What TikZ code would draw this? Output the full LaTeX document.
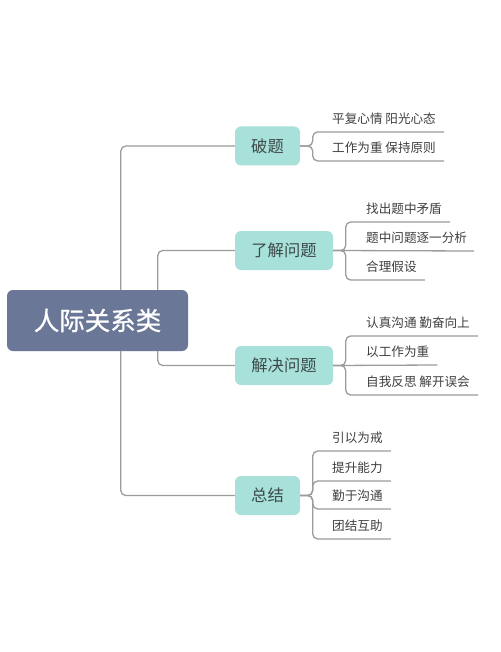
\documentclass[tikz,border=0pt]{standalone}
\usepackage{fontspec}
\setmainfont{Noto Sans CJK SC}
\newfontfamily\rootfont[FakeBold=0.8]{Noto Sans CJK SC}
\definecolor{rootc}{HTML}{6B7796}
\definecolor{boxc}{HTML}{A8E1D9}
\definecolor{linec}{HTML}{9C9C9C}
\definecolor{leaftext}{HTML}{404040}
\definecolor{boxtext}{HTML}{3D4A4A}
\begin{document}
\begin{tikzpicture}[x=1pt,y=-1pt,
  rootbox/.style={fill=rootc,rounded corners=6pt,minimum width=181pt,minimum height=61pt,inner sep=0pt,text=white,font=\rootfont\fontsize{25.5pt}{28pt}\selectfont},
  topicbox/.style={fill=boxc,rounded corners=6pt,minimum height=39pt,inner sep=0pt,text=boxtext,font=\fontsize{16.3pt}{19pt}\selectfont},
  leaf/.style={anchor=south west,inner xsep=0pt,inner ysep=8pt,text depth=0pt,text=leaftext,font=\fontsize{12.6pt}{15pt}\selectfont},
  conn/.style={draw=linec,line width=1.3pt,rounded corners=5pt}]
\useasboundingbox[fill=white] (0,0) rectangle (500,652);

\node[rootbox] (root) at (97.5,320.5) {人际关系类};

\node[topicbox,minimum width=65pt] (b1) at (267.5,146) {破题};
\node[topicbox,minimum width=98pt] (b2) at (284,250.5) {了解问题};
\node[topicbox,minimum width=98pt] (b3) at (284,365.5) {解决问题};
\node[topicbox,minimum width=65pt] (b4) at (267.5,495.5) {总结};

\draw[conn] ([xshift=114pt]root.north west) |- (b1.west);
\draw[conn] ([xshift=151pt]root.north west) |- (b2.west);
\draw[conn] ([xshift=151pt]root.south west) |- (b3.west);
\draw[conn] ([xshift=114pt]root.south west) |- (b4.west);

% leaves of b1
\node[leaf] (l11) at (332,132) {平复心情 阳光心态};
\node[leaf] (l12) at (332,161) {工作为重 保持原则};
% leaves of b2
\node[leaf] (l21) at (366,222) {找出题中矛盾};
\node[leaf] (l22) at (366,251) {题中问题逐一分析};
\node[leaf] (l23) at (366,280) {合理假设};
% leaves of b3
\node[leaf] (l31) at (366,336) {认真沟通 勤奋向上};
\node[leaf] (l32) at (366,365) {以工作为重};
\node[leaf] (l33) at (366,395) {自我反思 解开误会};
% leaves of b4
\node[leaf] (l41) at (332,451) {引以为戒};
\node[leaf] (l42) at (332,481) {提升能力};
\node[leaf] (l43) at (332,509) {勤于沟通};
\node[leaf] (l44) at (332,539) {团结互助};

\foreach \b/\l in {b1/l11,b1/l12,b2/l21,b2/l23,b3/l31,b3/l33,b4/l41,b4/l42,b4/l43,b4/l44}{
  \draw[conn] (\b.east) -- ++(12.5,0) |- ([xshift=8pt]\l.south east);
}
\draw[conn] (b2.east) -- ([xshift=7pt]l22.south east);
\draw[conn] (b3.east) -- ([xshift=8pt]l32.south east);
\end{tikzpicture}
\end{document}
